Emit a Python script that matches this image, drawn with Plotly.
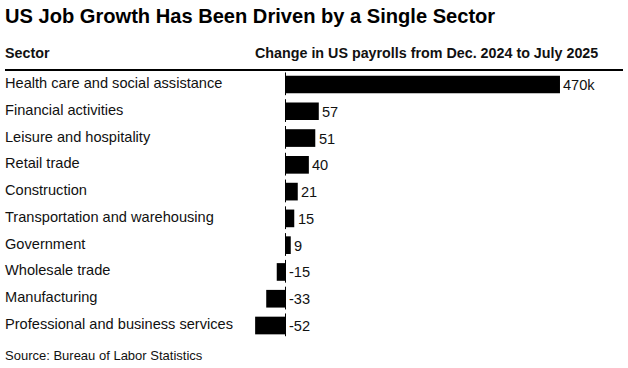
import plotly.graph_objects as go

title = "US Job Growth Has Been Driven by a Single Sector"
col_left = "Sector"
col_right = "Change in US payrolls from Dec. 2024 to July 2025"
source = "Source: Bureau of Labor Statistics"

sectors = [
    "Health care and social assistance",
    "Financial activities",
    "Leisure and hospitality",
    "Retail trade",
    "Construction",
    "Transportation and warehousing",
    "Government",
    "Wholesale trade",
    "Manufacturing",
    "Professional and business services",
]
values = [470, 57, 51, 40, 21, 15, 9, -15, -33, -52]
value_labels = ["470k", "57", "51", "40", "21", "15", "9", "-15", "-33", "-52"]

W, H = 628, 368
FONT = "Liberation Sans, Arial, sans-serif"
INK = "#000000"

fig = go.Figure(
    go.Bar(
        x=values,
        y=sectors,
        orientation="h",
        marker=dict(color="#000000", line=dict(width=0)),
        width=0.66,
        hoverinfo="skip",
    )
)

# zero at 285.5 px, 0.584 px per unit
px_per = 0.584
x0_px = 285.5
xr = [-x0_px / px_per, (W - x0_px) / px_per]

n = len(sectors)
fig.update_layout(
    width=W,
    height=H,
    margin=dict(l=0, r=0, t=0, b=0),
    paper_bgcolor="white",
    plot_bgcolor="white",
    showlegend=False,
    xaxis=dict(range=xr, domain=[0, 1], visible=False, fixedrange=True),
    yaxis=dict(
        type="category",
        categoryorder="array",
        categoryarray=sectors,
        range=[n - 0.5, -0.5],
        domain=[1 - 338.9 / H, 1 - 71.1 / H],
        visible=False,
        fixedrange=True,
    ),
    font=dict(family=FONT, color=INK),
)

LX = 3 / W
ann = []
# title
ann.append(dict(text="<b>%s</b>" % title, x=LX, y=1 - 16 / H, xref="paper", yref="paper",
                xanchor="left", yanchor="middle", showarrow=False,
                font=dict(size=20.1, family=FONT, color="#000")))
# column headers
ann.append(dict(text="<b>%s</b>" % col_left, x=LX, y=1 - 53 / H, xref="paper", yref="paper",
                xanchor="left", yanchor="middle", showarrow=False,
                font=dict(size=14.3, family=FONT, color="#111")))
ann.append(dict(text="<b>%s</b>" % col_right, x=253 / W, y=1 - 53 / H, xref="paper", yref="paper",
                xanchor="left", yanchor="middle", showarrow=False,
                font=dict(size=14.3, family=FONT, color="#111")))
# source
ann.append(dict(text=source, x=LX, y=1 - 355 / H, xref="paper", yref="paper",
                xanchor="left", yanchor="middle", showarrow=False,
                font=dict(size=13, family=FONT, color="#111")))
# sector labels and value labels
for s, v, lab in zip(sectors, values, value_labels):
    ann.append(dict(text=s, x=LX, y=s, xref="paper", yref="y", xanchor="left",
                    yanchor="middle", yshift=1.5, showarrow=False,
                    font=dict(size=14.6, family=FONT, color="#111")))
    ann.append(dict(text=lab, x=max(v, 0), y=s, xref="x", yref="y", xanchor="left",
                    yanchor="middle", xshift=1.5, yshift=-0.5, showarrow=False,
                    font=dict(size=14.6, family=FONT, color="#111")))
fig.update_layout(annotations=ann)

shapes = [dict(type="line", xref="paper", yref="paper", x0=5 / W, x1=623 / W,
               y0=1 - 70 / H, y1=1 - 70 / H, line=dict(color="#000", width=2))]
for i in range(n):
    shapes.append(dict(type="line", xref="x", yref="y", x0=0, x1=0, y0=i - 0.45, y1=i + 0.4,
                       line=dict(color="#000", width=1)))
fig.update_layout(shapes=shapes)

fig.write_html(
    "out.html",
    config={"displayModeBar": False},
    post_script="document.body.style.margin='0';document.body.style.overflow='hidden';",
)
